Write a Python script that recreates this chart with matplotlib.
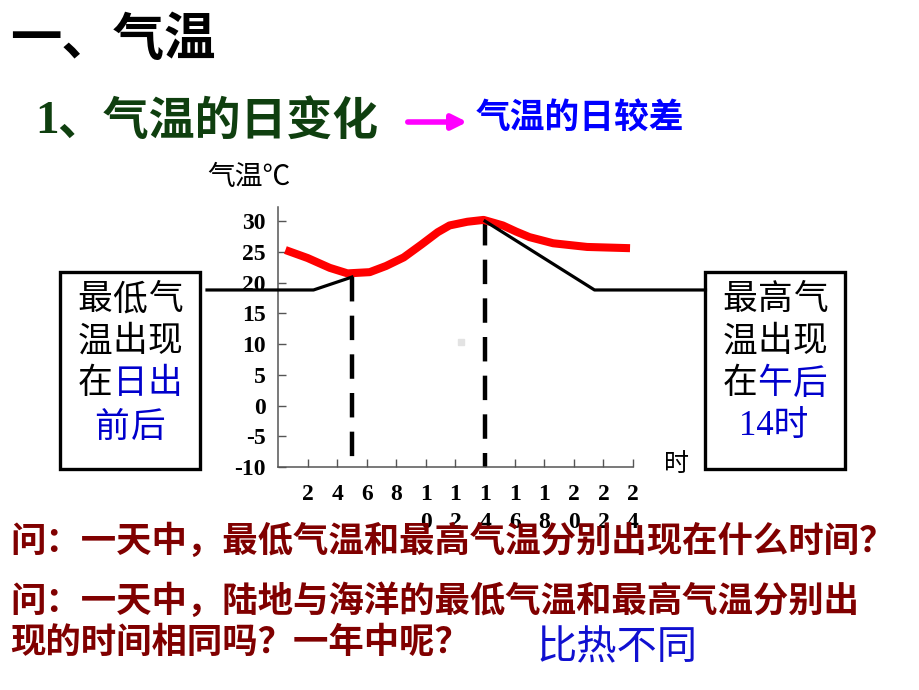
import matplotlib
matplotlib.use("Agg")
import matplotlib.pyplot as plt
from matplotlib.patches import Rectangle, FancyArrowPatch

plt.rcParams['font.family'] = ['Noto Sans CJK SC', 'DejaVu Sans']

# red curve: air temperature over the day (hour, degC)
red_hours = [0.5, 2, 3.5, 4.7, 6.2, 7.3, 8.5, 9.7, 10.8, 11.6, 12.8, 13.9, 15.2, 16.1, 17.0, 18.6, 20.9, 23.8]
red_temps = [25.3, 24.0, 22.4, 21.5, 21.7, 22.7, 24.1, 26.2, 28.2, 29.3, 29.9, 30.2, 29.3, 28.3, 27.4, 26.4, 25.8, 25.6]

# black schematic lines joining the two boxes
black_left_hours = [-4.8, 2.4, 5.0]
black_left_temps = [18.8, 18.8, 20.9]
black_right_hours = [14.0, 21.4, 28.9]
black_right_temps = [30.0, 18.8, 18.8]

# dashed markers for lowest / highest temperature
mark_hours = [5.0, 14.0]
mark_temps = [20.9, 30.0]

yticks = [30, 25, 20, 15, 10, 5, 0, -5, -10]
xticks = [2, 4, 6, 8, 10, 12, 14, 16, 18, 20, 22, 24]
xticklabels = ["\n".join(str(h)) for h in xticks]

W, H = 920, 690
fig = plt.figure(figsize=(W / 100, H / 100), dpi=100)


def fx(x):
    return x / W


def fy(y):
    return 1 - y / H


def put(x, y, s, **kw):
    kw.setdefault("ha", "center")
    kw.setdefault("va", "center")
    fig.text(fx(x), fy(y), s, **kw)


# axes placed in pixel units of the slide
ax = fig.add_axes([fx(278), fy(467), (633 - 278) / W, (467 - 207) / H])
ax.set_xlim(0, 24)
ax.set_ylim(-10, 32.3)

ax.plot(red_hours, red_temps, color="#ff0000", lw=5.8,
        solid_joinstyle="round", solid_capstyle="butt", zorder=3)
ax.plot(black_left_hours, black_left_temps, color="black", lw=2.3, clip_on=False, zorder=4)
ax.plot(black_right_hours, black_right_temps, color="black", lw=2.3, clip_on=False, zorder=4)
for h, t in zip(mark_hours, mark_temps):
    ax.plot([h, h], [t, -10], color="black", lw=3.2,
            linestyle=(0, (5.5, 3.2)), clip_on=False, zorder=2)

for s in ["top", "right"]:
    ax.spines[s].set_visible(False)
for s in ["left", "bottom"]:
    ax.spines[s].set_color("#555555")
    ax.spines[s].set_linewidth(1.1)

ax.set_yticks(yticks)
ax.set_yticklabels([str(v) for v in yticks], family="Liberation Serif",
                   fontweight="bold", fontsize=17)
ax.set_xticks(xticks)
ax.set_xticklabels(xticklabels, family="Liberation Serif", fontweight="bold",
                   fontsize=17, linespacing=1.45)
ax.tick_params(axis="y", direction="in", length=6, width=1, color="#555555", pad=9)
ax.tick_params(axis="x", direction="in", length=6, width=1, color="#555555", pad=12)

# headings
put(10, 40, "一、气温", ha="left", fontsize=37, fontweight="bold", color="black")
put(35, 122, "1", ha="left", fontsize=34, fontweight="bold", color="#0f3f0f",
    family="Liberation Serif")
put(57, 122, "、气温的日变化", ha="left", fontsize=33, fontweight="bold", color="#0f3f0f")
fig.patches.append(FancyArrowPatch((fx(405), fy(122)), (fx(470), fy(122)),
                                   transform=fig.transFigure, arrowstyle="-|>",
                                   mutation_scale=22, lw=4, color="#ff00ff"))
put(476, 118, "气温的日较差", ha="left", fontsize=25, fontweight="bold", color="#0000ff")
put(207, 177, "气温℃", ha="left", fontsize=20, color="black")
put(664, 464, "时", ha="left", fontsize=18, color="black")

# side boxes
for x0, x1 in [(60, 200), (705, 845)]:
    fig.patches.append(Rectangle((fx(x0), fy(469)), (x1 - x0) / W, (469 - 272) / H,
                                 transform=fig.transFigure, fill=False,
                                 lw=2.4, edgecolor="black"))

blue = "#0000cc"
rows = [300, 342, 384, 427]
for cols, chars in [([95, 130, 165], ["最低气", "温出现", "在日出"]),
                    ([740, 775, 810], ["最高气", "温出现", "在午后"])]:
    for r, line in enumerate(chars):
        for c, ch in enumerate(line):
            col = "black" if (r < 2 or c == 0) else blue
            put(cols[c], rows[r], ch, fontsize=25, color=col)
put(112, rows[3], "前", fontsize=25, color=blue)
put(148, rows[3], "后", fontsize=25, color=blue)
put(774, rows[3], "14时", fontsize=25, color=blue,
    family=["Liberation Serif", "Noto Sans CJK SC"])

# small grey speck on the slide
fig.patches.append(Rectangle((fx(458), fy(345)), 6 / W, 6 / H,
                             transform=fig.transFigure, color="#e3e3e3"))

# questions
red = "#800000"
put(10, 541, "问：一天中，最低气温和最高气温分别出现在什么时间？", ha="left",
    fontsize=25.5, fontweight="bold", color=red)
put(10, 601, "问：一天中，陆地与海洋的最低气温和最高气温分别出", ha="left",
    fontsize=25.5, fontweight="bold", color=red)
put(10, 642, "现的时间相同吗？一年中呢？", ha="left",
    fontsize=25.5, fontweight="bold", color=red)
put(617, 648, "比热不同", fontsize=29, color="#1010d0")

fig.savefig("out.png", dpi=100)
